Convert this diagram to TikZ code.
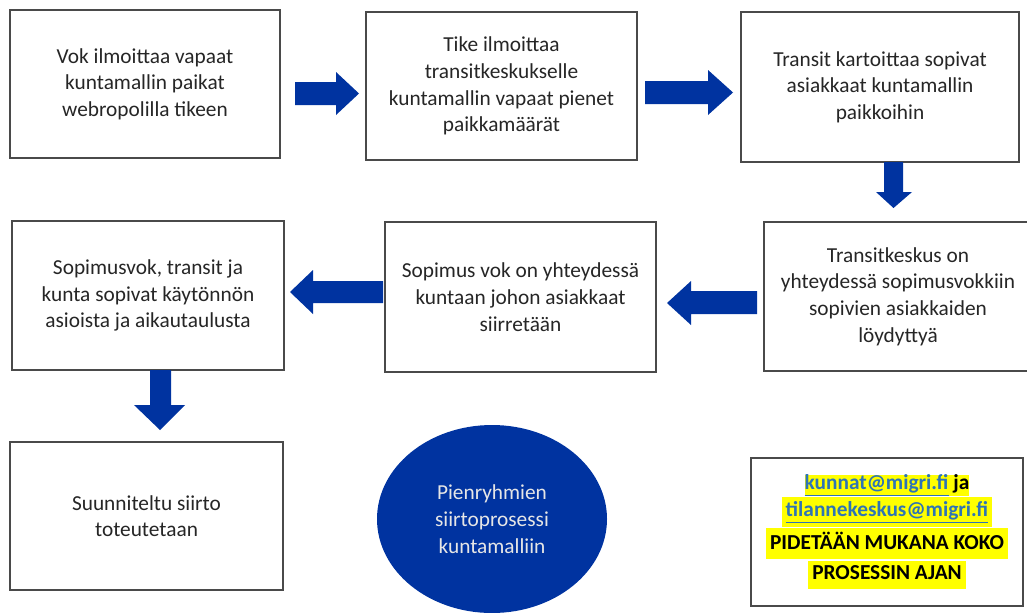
\documentclass[tikz,border=0pt]{standalone}
\usepackage{fontspec}
\setmainfont{Carlito}
\usetikzlibrary{shapes.geometric}
\definecolor{boxline}{HTML}{4A4A4A}
\definecolor{boxtext}{HTML}{262626}
\definecolor{migriblue}{HTML}{0033A0}
\definecolor{ovaltext}{HTML}{E6E6E6}
\definecolor{linkblue}{HTML}{2E74B5}
\definecolor{hilite}{HTML}{FFFF00}
\newcommand{\hl}[1]{\colorbox{hilite}{\rule[-4.5pt]{0pt}{15.5pt}#1}}
\begin{document}
\begin{tikzpicture}[x=0.75pt,y=-0.75pt,
      every node/.style={inner sep=0pt},
      stepbox/.style={draw=boxline,line width=1.1pt,fill=white,text=boxtext,
        align=center,font=\fontsize{16}{20}\selectfont},
      blockarrow/.style={fill=migriblue}]
      \useasboundingbox(0,0)rectangle(1027,612);
      % top row
      \node[stepbox,minimum width=202.5pt,minimum height=111pt](vok)at(145,84)
        {Vok ilmoittaa vapaat\\kuntamallin paikat\\webropolilla tikeen};
      \node[stepbox,minimum width=203.3pt,minimum height=111pt](tike)at(501.5,86)
        {Tike ilmoittaa\\transitkeskukselle\\kuntamallin vapaat pienet\\paikkamäärät};
      \node[stepbox,minimum width=208.5pt,minimum height=112.5pt](kartoitus)at(880,87)
        {Transit kartoittaa sopivat\\asiakkaat kuntamallin\\paikkoihin};
      % middle row
      \node[stepbox,minimum width=201pt,minimum height=111.8pt](yhteys)at(898,296.5)
        {Transitkeskus on\\yhteydessä sopimusvokkiin\\sopivien asiakkaiden\\löydyttyä};
      \node[stepbox,minimum width=203.3pt,minimum height=112.5pt](kunta)at(520.5,297)
        {Sopimus vok on yhteydessä\\kuntaan johon asiakkaat\\siirretään};
      \node[stepbox,minimum width=204pt,minimum height=111.8pt](sopimus)at(148,295.5)
        {Sopimusvok, transit ja\\kunta sopivat käytönnön\\asioista ja aikautaulusta};
      % bottom row
      \node[stepbox,minimum width=204.8pt,minimum height=111pt](siirto)at(146.5,516)
        {Suunniteltu siirto\\toteutetaan};
      \node[ellipse,fill=migriblue,text=ovaltext,minimum width=172.5pt,minimum height=141pt,
        align=center,font=\fontsize{16}{20}\selectfont](oval)at(492,519)
        {Pienryhmien\\siirtoprosessi\\kuntamalliin};
      \node[stepbox,minimum width=204pt,minimum height=111pt,font=\fontsize{16}{20}\selectfont\bfseries,
        text=black](yhteystiedot)at(887,532){\setlength{\fboxsep}{0pt}%
        \hl{\textcolor{linkblue}{\underline{kunnat@migri.fi}} ja}\\
        \hl{\textcolor{linkblue}{\underline{tilannekeskus@migri.fi}}}\\
        \hl{PIDETÄÄN MUKANA KOKO}\\\hl{PROSESSIN AJAN}};
      % block arrows
      \fill[blockarrow](295,82)--(336,82)--(336,72)--(359,93.5)--(336,115)--(336,105)
        --(295,105)--cycle;
      \fill[blockarrow](645,81)--(708,81)--(708,70)--(733,92.5)--(708,115)--(708,104)
        --(645,104)--cycle;
      \fill[blockarrow](884,162)--(903,162)--(903,192)--(912,192)--(893.5,208)--(876,192)
        --(884,192)--cycle;
      \fill[blockarrow](757,291)--(691,291)--(691,281)--(667,303)--(691,325)--(691,314)
        --(757,314)--cycle;
      \fill[blockarrow](383,281)--(313,281)--(313,270)--(290,292)--(313,314)--(313,303)
        --(383,303)--cycle;
      \fill[blockarrow](150,370)--(171,370)--(171,405)--(185,405)--(160,430)--(134,405)
        --(150,405)--cycle;
    \end{tikzpicture}
\end{document}
